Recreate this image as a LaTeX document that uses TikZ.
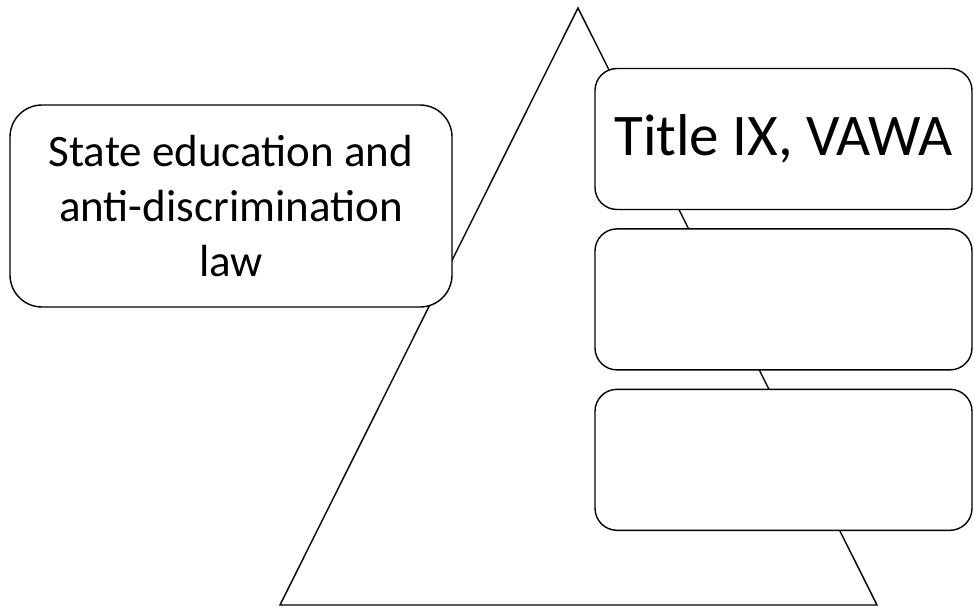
\documentclass[tikz,border=0pt]{standalone}
\usepackage{fontspec}
\setmainfont{Carlito}
\usetikzlibrary{positioning}
\tikzset{lawbox/.style={draw=black, fill=white, line width=1.4pt, align=center, inner sep=0pt},
  sidebox/.style={lawbox, minimum width=377pt, minimum height=141pt, rounded corners=22pt}}

\begin{document}
\begin{tikzpicture}[x=1pt,y=-1pt]
                      \useasboundingbox (0,0) rectangle (974,607);
                      % pyramid behind the boxes
                      \draw[line width=1.4pt, line join=miter](578,8)--(280,605)--(877,605)--cycle;

                      \node[lawbox, minimum width=442pt, minimum height=202pt, rounded corners=32pt,
                            font=\fontsize{45}{55}\selectfont] (statelaw) at (231,206)
                            {State education and\\anti-discrimination\\law};

                      \node[sidebox, font=\fontsize{59}{70}\selectfont] (titleix) at (783.5,139) {Title IX, VAWA};
                      \node[sidebox, below=18pt of titleix] (middle) {};
                      \node[sidebox, below=18pt of middle] (lowest) {};
             \end{tikzpicture}
\end{document}
